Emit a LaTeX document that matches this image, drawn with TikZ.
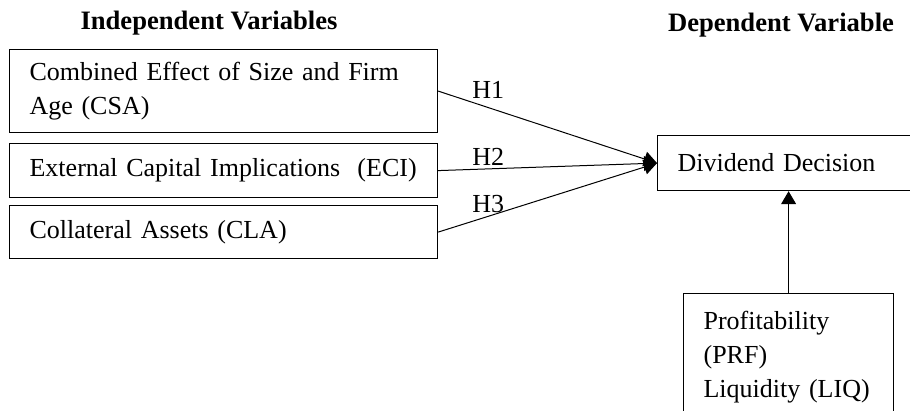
\documentclass[tikz,border=0pt]{standalone}
\usepackage{fontspec}
\setmainfont{Liberation Serif}
\usetikzlibrary{arrows.meta}

\begin{document}
\begin{tikzpicture}[x=0.5pt, y=-0.5pt,
    every node/.style={font=\fontsize{13}{17}\selectfont},
    varbox/.style={draw, line width=0.6pt, anchor=north west, inner xsep=10pt, inner ysep=0pt, align=left},
    title/.style={font=\fontsize{13.3}{17}\selectfont\bfseries, anchor=base},
    hyp/.style={anchor=base west, inner sep=0pt},
    link/.style={line width=0.5pt, -{Triangle[length=6.5pt, width=7.5pt]}}]
    \useasboundingbox (0,0) rectangle (910,411);
    \clip (0,0) rectangle (910,411);
    \node [title] (indep) at (209,30) {Independent Variables};
    \node [title] (dep) at (781,32) {Dependent Variable};
    \node [varbox, text width=194pt, minimum height=41.5pt] (csa) at (9,49) {Combined Effect of Size and Firm\\Age (CSA)};
    \node [varbox, text width=194pt, minimum height=27pt] (eci) at (9,143) {\mbox{External Capital Implications\ \ (ECI)}};
    \node [varbox, text width=194pt, minimum height=26.5pt] (cla) at (9,205) {Collateral Assets (CLA)};
    \node [varbox, text width=140pt, minimum height=27.5pt] (dd) at (657,135) {Dividend Decision};
    \node [varbox, text width=85pt, inner ysep=9pt] (prf) at (683,293) {Profitability\\(PRF)\\Liquidity (LIQ)};
    \node [hyp] (h1) at (472,99) {H1};
    \node [hyp] (h2) at (472,166) {H2};
    \node [hyp] (h3) at (472,213) {H3};
    \draw [link] (csa.east) -- (dd.west);
    \draw [link] (eci.east) -- (dd.west);
    \draw [link] (cla.east) -- (dd.west);
    \draw [link] (prf.north) -- (prf.north |- dd.south);
\end{tikzpicture}
\end{document}
